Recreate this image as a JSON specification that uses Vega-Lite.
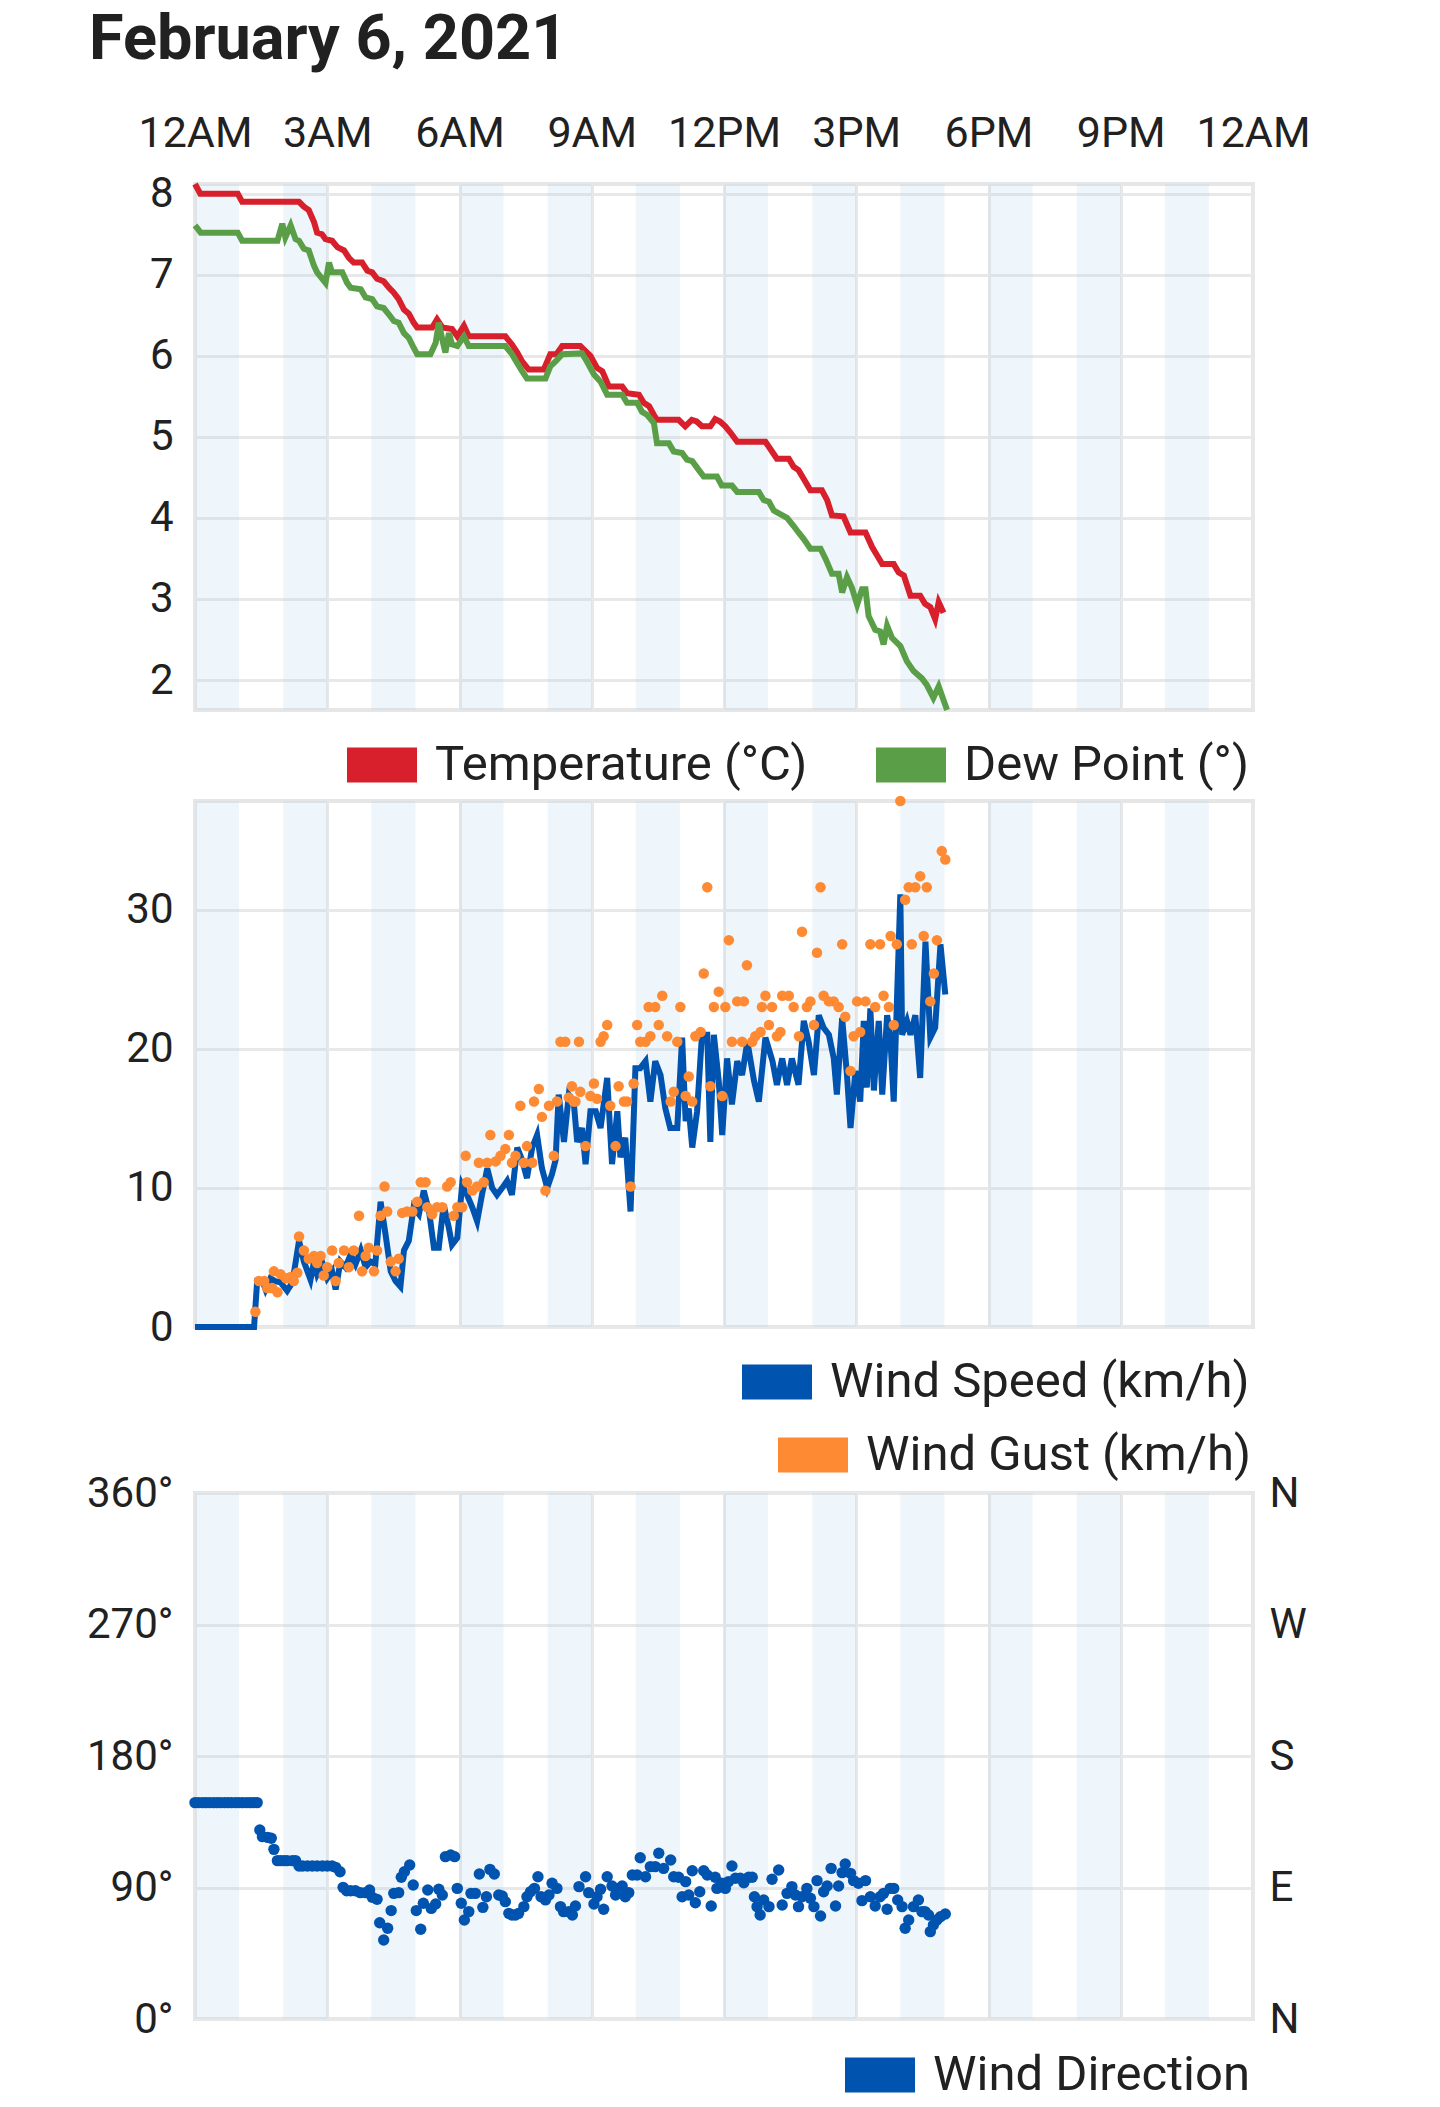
{
  "$schema": "https://vega.github.io/schema/vega-lite/v6.json",
  "autosize": {"type": "pad"},
  "padding": {"left": 84, "top": 9, "right": 20, "bottom": 20},
  "background": "white",
  "title": {"text": "February 6, 2021", "anchor": "start", "frame": "group", "dx": -106, "offset": 38, "font": "Roboto", "fontSize": 63, "fontWeight": "bold", "color": "#212121"},
  "config": {
    "font": "Roboto",
    "view": {"stroke": "#e6e6e6", "strokeWidth": 4},
    "axis": {"gridColor": "#e8e8e8", "gridWidth": 3, "domain": false, "ticks": false, "labelFont": "Roboto", "labelFontSize": 42, "labelColor": "#212121", "title": null},
    "legend": {"orient": "none", "title": null, "symbolType": "M-1,-0.5H1V0.5H-1Z", "symbolSize": 4900, "symbolStrokeWidth": 0, "labelFont": "Roboto", "labelFontSize": 49, "labelColor": "#212121", "labelOffset": 18, "padding": 0, "labelLimit": 2000}
  },
  "datasets": {
    "bands": [{"s":0,"e":1},{"s":2,"e":3},{"s":4,"e":5},{"s":6,"e":7},{"s":8,"e":9},{"s":10,"e":11},{"s":12,"e":13},{"s":14,"e":15},{"s":16,"e":17},{"s":18,"e":19},{"s":20,"e":21},{"s":22,"e":23}],
    "temp": [{"t":0,"v":8.12},{"t":0.12,"v":8.0},{"t":0.97,"v":8.0},{"t":1.07,"v":7.9},{"t":2.36,"v":7.9},{"t":2.47,"v":7.84},{"t":2.58,"v":7.8},{"t":2.7,"v":7.65},{"t":2.77,"v":7.52},{"t":2.88,"v":7.5},{"t":2.96,"v":7.44},{"t":3.11,"v":7.42},{"t":3.23,"v":7.34},{"t":3.38,"v":7.3},{"t":3.49,"v":7.21},{"t":3.6,"v":7.15},{"t":3.79,"v":7.15},{"t":3.91,"v":7.05},{"t":4.02,"v":7.03},{"t":4.13,"v":6.95},{"t":4.28,"v":6.92},{"t":4.4,"v":6.84},{"t":4.51,"v":6.78},{"t":4.62,"v":6.7},{"t":4.74,"v":6.57},{"t":4.85,"v":6.52},{"t":4.96,"v":6.41},{"t":5.04,"v":6.35},{"t":5.38,"v":6.35},{"t":5.49,"v":6.45},{"t":5.61,"v":6.35},{"t":5.83,"v":6.33},{"t":5.95,"v":6.24},{"t":6.1,"v":6.37},{"t":6.21,"v":6.24},{"t":7.04,"v":6.24},{"t":7.19,"v":6.14},{"t":7.31,"v":6.04},{"t":7.42,"v":5.93},{"t":7.57,"v":5.83},{"t":7.91,"v":5.83},{"t":8.06,"v":6.02},{"t":8.2,"v":6.02},{"t":8.33,"v":6.12},{"t":8.74,"v":6.12},{"t":8.97,"v":6.0},{"t":9.12,"v":5.85},{"t":9.24,"v":5.81},{"t":9.39,"v":5.62},{"t":9.69,"v":5.62},{"t":9.8,"v":5.54},{"t":10.07,"v":5.52},{"t":10.18,"v":5.42},{"t":10.3,"v":5.38},{"t":10.41,"v":5.27},{"t":10.48,"v":5.21},{"t":10.97,"v":5.21},{"t":11.12,"v":5.13},{"t":11.27,"v":5.21},{"t":11.38,"v":5.19},{"t":11.5,"v":5.13},{"t":11.69,"v":5.13},{"t":11.8,"v":5.22},{"t":11.91,"v":5.19},{"t":12.03,"v":5.13},{"t":12.15,"v":5.05},{"t":12.3,"v":4.94},{"t":12.94,"v":4.94},{"t":13.09,"v":4.82},{"t":13.2,"v":4.73},{"t":13.47,"v":4.73},{"t":13.58,"v":4.63},{"t":13.69,"v":4.59},{"t":13.81,"v":4.48},{"t":13.96,"v":4.34},{"t":14.22,"v":4.34},{"t":14.34,"v":4.22},{"t":14.45,"v":4.03},{"t":14.71,"v":4.02},{"t":14.87,"v":3.82},{"t":15.21,"v":3.82},{"t":15.36,"v":3.64},{"t":15.47,"v":3.54},{"t":15.59,"v":3.43},{"t":15.85,"v":3.43},{"t":15.96,"v":3.33},{"t":16.08,"v":3.29},{"t":16.23,"v":3.04},{"t":16.45,"v":3.04},{"t":16.56,"v":2.94},{"t":16.68,"v":2.9},{"t":16.79,"v":2.75},{"t":16.87,"v":2.96},{"t":16.98,"v":2.83}],
    "dew": [{"t":0,"v":7.61},{"t":0.13,"v":7.52},{"t":0.97,"v":7.52},{"t":1.07,"v":7.42},{"t":1.87,"v":7.42},{"t":1.98,"v":7.63},{"t":2.05,"v":7.46},{"t":2.17,"v":7.61},{"t":2.28,"v":7.44},{"t":2.36,"v":7.42},{"t":2.47,"v":7.32},{"t":2.58,"v":7.3},{"t":2.7,"v":7.11},{"t":2.77,"v":7.03},{"t":2.96,"v":6.9},{"t":3.04,"v":7.15},{"t":3.11,"v":7.03},{"t":3.34,"v":7.03},{"t":3.45,"v":6.9},{"t":3.53,"v":6.84},{"t":3.76,"v":6.82},{"t":3.87,"v":6.72},{"t":4.02,"v":6.7},{"t":4.13,"v":6.61},{"t":4.28,"v":6.59},{"t":4.4,"v":6.51},{"t":4.51,"v":6.43},{"t":4.62,"v":6.41},{"t":4.74,"v":6.28},{"t":4.85,"v":6.22},{"t":4.96,"v":6.1},{"t":5.04,"v":6.02},{"t":5.34,"v":6.02},{"t":5.46,"v":6.16},{"t":5.53,"v":6.41},{"t":5.61,"v":6.2},{"t":5.68,"v":6.04},{"t":5.76,"v":6.28},{"t":5.83,"v":6.14},{"t":5.95,"v":6.12},{"t":6.1,"v":6.24},{"t":6.21,"v":6.12},{"t":7.04,"v":6.12},{"t":7.19,"v":6.02},{"t":7.31,"v":5.91},{"t":7.42,"v":5.81},{"t":7.53,"v":5.72},{"t":7.95,"v":5.72},{"t":8.06,"v":5.87},{"t":8.18,"v":5.93},{"t":8.33,"v":6.02},{"t":8.78,"v":6.03},{"t":8.89,"v":5.93},{"t":9.05,"v":5.77},{"t":9.2,"v":5.68},{"t":9.35,"v":5.52},{"t":9.69,"v":5.52},{"t":9.8,"v":5.42},{"t":10.03,"v":5.42},{"t":10.14,"v":5.31},{"t":10.26,"v":5.27},{"t":10.41,"v":5.17},{"t":10.48,"v":4.92},{"t":10.75,"v":4.92},{"t":10.86,"v":4.82},{"t":11.05,"v":4.8},{"t":11.16,"v":4.72},{"t":11.28,"v":4.7},{"t":11.43,"v":4.59},{"t":11.54,"v":4.51},{"t":11.84,"v":4.51},{"t":11.95,"v":4.4},{"t":12.18,"v":4.4},{"t":12.3,"v":4.32},{"t":12.79,"v":4.32},{"t":12.9,"v":4.22},{"t":13.02,"v":4.2},{"t":13.13,"v":4.09},{"t":13.43,"v":4.0},{"t":13.58,"v":3.9},{"t":13.69,"v":3.82},{"t":13.81,"v":3.74},{"t":13.96,"v":3.62},{"t":14.19,"v":3.62},{"t":14.3,"v":3.5},{"t":14.45,"v":3.31},{"t":14.6,"v":3.31},{"t":14.68,"v":3.08},{"t":14.79,"v":3.27},{"t":14.9,"v":3.14},{"t":15.02,"v":2.93},{"t":15.13,"v":3.12},{"t":15.21,"v":3.12},{"t":15.28,"v":2.79},{"t":15.43,"v":2.62},{"t":15.54,"v":2.6},{"t":15.62,"v":2.44},{"t":15.7,"v":2.67},{"t":15.81,"v":2.52},{"t":16.0,"v":2.42},{"t":16.15,"v":2.23},{"t":16.3,"v":2.11},{"t":16.49,"v":2.02},{"t":16.6,"v":1.94},{"t":16.75,"v":1.78},{"t":16.87,"v":1.92},{"t":17.06,"v":1.63}],
    "speed": [{"t":0,"v":0},{"t":1.34,"v":0},{"t":1.41,"v":3.3},{"t":1.53,"v":3.3},{"t":1.6,"v":2.7},{"t":1.71,"v":3.5},{"t":1.82,"v":3.3},{"t":1.94,"v":3.2},{"t":2.09,"v":2.6},{"t":2.21,"v":3.2},{"t":2.36,"v":6.2},{"t":2.47,"v":4.7},{"t":2.62,"v":3.4},{"t":2.7,"v":4.7},{"t":2.77,"v":3.8},{"t":2.89,"v":4.6},{"t":3.0,"v":3.5},{"t":3.11,"v":4.0},{"t":3.19,"v":2.7},{"t":3.3,"v":4.7},{"t":3.41,"v":4.3},{"t":3.53,"v":5.2},{"t":3.64,"v":4.5},{"t":3.76,"v":5.5},{"t":3.87,"v":4.3},{"t":3.98,"v":4.7},{"t":4.09,"v":4.5},{"t":4.21,"v":9.0},{"t":4.32,"v":6.7},{"t":4.44,"v":4.0},{"t":4.55,"v":3.3},{"t":4.66,"v":2.9},{"t":4.74,"v":5.5},{"t":4.85,"v":6.2},{"t":4.96,"v":8.6},{"t":5.08,"v":8.1},{"t":5.19,"v":9.8},{"t":5.31,"v":8.3},{"t":5.42,"v":5.7},{"t":5.53,"v":5.7},{"t":5.64,"v":8.8},{"t":5.76,"v":7.1},{"t":5.83,"v":5.9},{"t":5.95,"v":6.4},{"t":6.06,"v":10.2},{"t":6.17,"v":9.5},{"t":6.29,"v":8.6},{"t":6.4,"v":7.6},{"t":6.51,"v":9.5},{"t":6.63,"v":11.4},{"t":6.74,"v":10.0},{"t":6.85,"v":9.5},{"t":6.97,"v":10.0},{"t":7.08,"v":10.5},{"t":7.19,"v":9.5},{"t":7.31,"v":12.9},{"t":7.42,"v":12.0},{"t":7.53,"v":10.7},{"t":7.65,"v":12.9},{"t":7.76,"v":13.8},{"t":7.87,"v":11.4},{"t":7.99,"v":10.0},{"t":8.1,"v":11.0},{"t":8.18,"v":12.0},{"t":8.25,"v":16.7},{"t":8.37,"v":13.3},{"t":8.48,"v":16.7},{"t":8.59,"v":16.2},{"t":8.67,"v":13.3},{"t":8.78,"v":14.3},{"t":8.86,"v":11.7},{"t":8.97,"v":15.5},{"t":9.09,"v":15.5},{"t":9.2,"v":14.3},{"t":9.35,"v":17.9},{"t":9.46,"v":11.7},{"t":9.58,"v":15.5},{"t":9.65,"v":12.2},{"t":9.76,"v":13.6},{"t":9.88,"v":8.3},{"t":9.99,"v":18.6},{"t":10.1,"v":18.6},{"t":10.22,"v":19.1},{"t":10.33,"v":16.2},{"t":10.44,"v":19.1},{"t":10.56,"v":18.1},{"t":10.67,"v":15.7},{"t":10.78,"v":14.3},{"t":10.94,"v":14.3},{"t":11.05,"v":20.8},{"t":11.13,"v":14.8},{"t":11.2,"v":15.7},{"t":11.28,"v":12.9},{"t":11.39,"v":15.5},{"t":11.5,"v":21.0},{"t":11.62,"v":21.0},{"t":11.69,"v":13.3},{"t":11.77,"v":21.0},{"t":11.88,"v":17.7},{"t":11.96,"v":13.8},{"t":12.07,"v":19.3},{"t":12.18,"v":16.0},{"t":12.3,"v":19.1},{"t":12.41,"v":18.1},{"t":12.53,"v":20.5},{"t":12.68,"v":17.7},{"t":12.79,"v":16.2},{"t":12.94,"v":20.8},{"t":13.1,"v":19.1},{"t":13.2,"v":17.4},{"t":13.32,"v":19.3},{"t":13.43,"v":17.4},{"t":13.54,"v":19.3},{"t":13.69,"v":17.4},{"t":13.81,"v":22.0},{"t":13.92,"v":20.5},{"t":14.04,"v":18.1},{"t":14.15,"v":22.4},{"t":14.26,"v":21.5},{"t":14.38,"v":21.0},{"t":14.49,"v":19.3},{"t":14.56,"v":16.7},{"t":14.68,"v":22.2},{"t":14.79,"v":18.1},{"t":14.87,"v":14.3},{"t":14.98,"v":18.4},{"t":15.09,"v":16.2},{"t":15.17,"v":22.0},{"t":15.24,"v":17.2},{"t":15.32,"v":22.9},{"t":15.4,"v":17.0},{"t":15.51,"v":22.0},{"t":15.59,"v":16.7},{"t":15.7,"v":22.4},{"t":15.77,"v":21.0},{"t":15.85,"v":16.2},{"t":16.0,"v":31.1},{"t":16.04,"v":21.0},{"t":16.15,"v":22.0},{"t":16.23,"v":21.0},{"t":16.34,"v":22.4},{"t":16.45,"v":17.9},{"t":16.57,"v":27.7},{"t":16.68,"v":20.8},{"t":16.79,"v":21.5},{"t":16.91,"v":27.5},{"t":17.02,"v":23.9}],
    "gust": [{"t":1.37,"v":1.1},{"t":1.45,"v":3.3},{"t":1.57,"v":3.3},{"t":1.64,"v":2.8},{"t":1.75,"v":2.8},{"t":1.87,"v":2.5},{"t":1.79,"v":4.0},{"t":1.94,"v":3.8},{"t":2.06,"v":3.5},{"t":2.17,"v":3.6},{"t":2.24,"v":3.3},{"t":2.32,"v":3.9},{"t":2.36,"v":6.5},{"t":2.47,"v":5.5},{"t":2.58,"v":4.9},{"t":2.7,"v":5.1},{"t":2.77,"v":4.6},{"t":2.85,"v":5.1},{"t":2.92,"v":3.7},{"t":3.0,"v":4.3},{"t":3.11,"v":5.5},{"t":3.19,"v":3.3},{"t":3.26,"v":4.6},{"t":3.38,"v":5.5},{"t":3.49,"v":4.3},{"t":3.6,"v":5.5},{"t":3.72,"v":8.0},{"t":3.79,"v":4.0},{"t":3.87,"v":5.1},{"t":3.94,"v":5.7},{"t":4.06,"v":4.0},{"t":4.13,"v":5.5},{"t":4.21,"v":8.0},{"t":4.3,"v":10.1},{"t":4.36,"v":8.3},{"t":4.44,"v":4.7},{"t":4.55,"v":4.0},{"t":4.62,"v":4.9},{"t":4.7,"v":8.2},{"t":4.81,"v":8.3},{"t":4.93,"v":8.3},{"t":5.04,"v":9.0},{"t":5.12,"v":10.4},{"t":5.23,"v":10.4},{"t":5.27,"v":8.6},{"t":5.38,"v":8.1},{"t":5.49,"v":8.6},{"t":5.61,"v":8.6},{"t":5.72,"v":10.1},{"t":5.8,"v":10.4},{"t":5.87,"v":8.0},{"t":5.95,"v":8.6},{"t":6.06,"v":8.6},{"t":6.14,"v":12.3},{"t":6.17,"v":10.4},{"t":6.29,"v":9.8},{"t":6.4,"v":10.1},{"t":6.44,"v":11.8},{"t":6.55,"v":10.4},{"t":6.63,"v":11.8},{"t":6.7,"v":13.8},{"t":6.82,"v":11.9},{"t":6.93,"v":12.3},{"t":7.04,"v":12.8},{"t":7.12,"v":13.8},{"t":7.19,"v":11.8},{"t":7.27,"v":12.3},{"t":7.38,"v":15.9},{"t":7.46,"v":11.8},{"t":7.53,"v":13.0},{"t":7.65,"v":11.8},{"t":7.69,"v":16.2},{"t":7.8,"v":17.1},{"t":7.87,"v":15.1},{"t":7.95,"v":9.8},{"t":8.03,"v":15.9},{"t":8.14,"v":12.3},{"t":8.21,"v":16.2},{"t":8.29,"v":20.5},{"t":8.4,"v":20.5},{"t":8.48,"v":16.5},{"t":8.55,"v":17.3},{"t":8.59,"v":16.2},{"t":8.63,"v":16.2},{"t":8.71,"v":20.5},{"t":8.74,"v":16.9},{"t":8.86,"v":13.0},{"t":8.97,"v":16.6},{"t":9.05,"v":17.5},{"t":9.12,"v":16.4},{"t":9.2,"v":20.5},{"t":9.27,"v":20.9},{"t":9.35,"v":21.7},{"t":9.42,"v":15.9},{"t":9.54,"v":13.0},{"t":9.61,"v":17.3},{"t":9.73,"v":16.2},{"t":9.8,"v":16.2},{"t":9.88,"v":10.1},{"t":9.95,"v":17.5},{"t":10.03,"v":21.7},{"t":10.1,"v":20.5},{"t":10.22,"v":20.5},{"t":10.29,"v":23.0},{"t":10.33,"v":20.9},{"t":10.44,"v":23.0},{"t":10.52,"v":21.7},{"t":10.6,"v":23.8},{"t":10.71,"v":20.9},{"t":10.79,"v":16.2},{"t":10.86,"v":16.9},{"t":10.94,"v":20.5},{"t":11.01,"v":23.0},{"t":11.13,"v":16.6},{"t":11.2,"v":18.0},{"t":11.28,"v":16.2},{"t":11.35,"v":20.9},{"t":11.47,"v":21.2},{"t":11.54,"v":25.4},{"t":11.62,"v":31.6},{"t":11.69,"v":17.3},{"t":11.77,"v":23.0},{"t":11.88,"v":24.1},{"t":11.96,"v":16.6},{"t":12.03,"v":23.0},{"t":12.11,"v":27.8},{"t":12.18,"v":20.5},{"t":12.3,"v":23.4},{"t":12.41,"v":20.5},{"t":12.45,"v":23.4},{"t":12.52,"v":26.0},{"t":12.64,"v":20.5},{"t":12.71,"v":20.9},{"t":12.83,"v":21.2},{"t":12.86,"v":23.0},{"t":12.94,"v":23.8},{"t":13.02,"v":21.7},{"t":13.09,"v":23.0},{"t":13.2,"v":20.9},{"t":13.28,"v":21.2},{"t":13.32,"v":23.8},{"t":13.47,"v":23.8},{"t":13.58,"v":23.0},{"t":13.7,"v":20.9},{"t":13.77,"v":28.4},{"t":13.88,"v":23.0},{"t":13.96,"v":23.4},{"t":14.04,"v":21.7},{"t":14.11,"v":26.9},{"t":14.19,"v":31.6},{"t":14.26,"v":23.8},{"t":14.38,"v":23.4},{"t":14.49,"v":23.4},{"t":14.6,"v":23.0},{"t":14.68,"v":27.5},{"t":14.75,"v":22.3},{"t":14.87,"v":18.4},{"t":14.94,"v":20.9},{"t":15.02,"v":23.4},{"t":15.09,"v":21.2},{"t":15.21,"v":23.4},{"t":15.32,"v":27.5},{"t":15.43,"v":23.0},{"t":15.54,"v":27.5},{"t":15.62,"v":23.8},{"t":15.74,"v":23.0},{"t":15.78,"v":28.1},{"t":15.85,"v":21.7},{"t":15.92,"v":27.5},{"t":16.0,"v":37.8},{"t":16.11,"v":30.7},{"t":16.19,"v":31.6},{"t":16.26,"v":27.5},{"t":16.34,"v":31.6},{"t":16.45,"v":32.4},{"t":16.53,"v":28.1},{"t":16.6,"v":31.6},{"t":16.68,"v":23.4},{"t":16.76,"v":25.4},{"t":16.83,"v":27.8},{"t":16.94,"v":34.2},{"t":17.02,"v":33.6}],
    "dir": [{"t":0,"v":148.1},{"t":0.08,"v":148.1},{"t":0.17,"v":148.1},{"t":0.25,"v":148.1},{"t":0.33,"v":148.1},{"t":0.42,"v":148.1},{"t":0.5,"v":148.1},{"t":0.58,"v":148.1},{"t":0.67,"v":148.1},{"t":0.75,"v":148.1},{"t":0.83,"v":148.1},{"t":0.92,"v":148.1},{"t":1.0,"v":148.1},{"t":1.08,"v":148.1},{"t":1.17,"v":148.1},{"t":1.25,"v":148.1},{"t":1.33,"v":148.1},{"t":1.41,"v":148.1},{"t":1.47,"v":129.4},{"t":1.53,"v":124.8},{"t":1.65,"v":124.3},{"t":1.73,"v":123.7},{"t":1.79,"v":116.1},{"t":1.87,"v":108.4},{"t":1.94,"v":108.4},{"t":2.02,"v":108.4},{"t":2.09,"v":108.4},{"t":2.21,"v":108.4},{"t":2.28,"v":108.4},{"t":2.36,"v":104.7},{"t":2.44,"v":104.7},{"t":2.55,"v":104.7},{"t":2.66,"v":104.7},{"t":2.77,"v":104.7},{"t":2.89,"v":104.7},{"t":3.0,"v":104.7},{"t":3.11,"v":104.7},{"t":3.19,"v":103.8},{"t":3.29,"v":100.8},{"t":3.36,"v":90.1},{"t":3.44,"v":87.8},{"t":3.53,"v":87.8},{"t":3.64,"v":87.8},{"t":3.75,"v":86.5},{"t":3.87,"v":86.5},{"t":3.96,"v":88.3},{"t":4.02,"v":83.3},{"t":4.13,"v":81.9},{"t":4.19,"v":65.9},{"t":4.28,"v":54.1},{"t":4.37,"v":62.1},{"t":4.45,"v":74.2},{"t":4.51,"v":86.0},{"t":4.62,"v":86.5},{"t":4.68,"v":97.0},{"t":4.75,"v":100.8},{"t":4.87,"v":105.4},{"t":4.95,"v":91.7},{"t":5.02,"v":74.2},{"t":5.12,"v":61.4},{"t":5.18,"v":79.2},{"t":5.28,"v":88.3},{"t":5.36,"v":75.7},{"t":5.46,"v":78.7},{"t":5.53,"v":88.8},{"t":5.61,"v":84.9},{"t":5.68,"v":111.1},{"t":5.8,"v":112.3},{"t":5.89,"v":111.1},{"t":5.95,"v":89.4},{"t":6.04,"v":79.2},{"t":6.11,"v":67.8},{"t":6.21,"v":73.5},{"t":6.26,"v":86.0},{"t":6.36,"v":86.0},{"t":6.45,"v":99.2},{"t":6.53,"v":76.4},{"t":6.61,"v":83.7},{"t":6.69,"v":102.4},{"t":6.79,"v":99.2},{"t":6.89,"v":84.9},{"t":6.97,"v":84.2},{"t":7.04,"v":80.3},{"t":7.12,"v":72.3},{"t":7.19,"v":71.2},{"t":7.27,"v":71.2},{"t":7.34,"v":72.3},{"t":7.46,"v":76.9},{"t":7.53,"v":83.7},{"t":7.61,"v":87.1},{"t":7.7,"v":89.4},{"t":7.78,"v":97.4},{"t":7.85,"v":83.7},{"t":7.95,"v":81.5},{"t":8.03,"v":84.9},{"t":8.1,"v":92.9},{"t":8.21,"v":89.4},{"t":8.29,"v":76.9},{"t":8.36,"v":73.5},{"t":8.48,"v":73.5},{"t":8.56,"v":71.2},{"t":8.63,"v":77.3},{"t":8.71,"v":90.6},{"t":8.86,"v":97.4},{"t":8.93,"v":86.5},{"t":9.05,"v":78.7},{"t":9.12,"v":83.7},{"t":9.2,"v":88.8},{"t":9.27,"v":75.1},{"t":9.35,"v":97.4},{"t":9.46,"v":91.0},{"t":9.54,"v":84.9},{"t":9.61,"v":89.4},{"t":9.69,"v":91.0},{"t":9.76,"v":83.7},{"t":9.84,"v":86.5},{"t":9.92,"v":98.6},{"t":10.03,"v":98.6},{"t":10.1,"v":110.4},{"t":10.22,"v":97.4},{"t":10.33,"v":104.3},{"t":10.44,"v":104.3},{"t":10.52,"v":113.4},{"t":10.63,"v":103.1},{"t":10.79,"v":108.8},{"t":10.86,"v":97.4},{"t":10.97,"v":97.0},{"t":11.05,"v":83.7},{"t":11.13,"v":94.0},{"t":11.2,"v":84.9},{"t":11.28,"v":101.5},{"t":11.35,"v":79.6},{"t":11.45,"v":87.1},{"t":11.54,"v":101.5},{"t":11.62,"v":98.6},{"t":11.71,"v":77.3},{"t":11.8,"v":97.0},{"t":11.84,"v":89.4},{"t":11.95,"v":92.9},{"t":12.03,"v":89.4},{"t":12.1,"v":94.0},{"t":12.18,"v":104.7},{"t":12.26,"v":96.3},{"t":12.37,"v":96.3},{"t":12.45,"v":93.3},{"t":12.56,"v":97.0},{"t":12.64,"v":97.0},{"t":12.69,"v":83.7},{"t":12.75,"v":76.9},{"t":12.82,"v":71.2},{"t":12.9,"v":81.5},{"t":13.02,"v":76.9},{"t":13.09,"v":95.6},{"t":13.24,"v":102.0},{"t":13.32,"v":78.0},{"t":13.43,"v":86.0},{"t":13.54,"v":90.6},{"t":13.62,"v":84.9},{"t":13.69,"v":76.9},{"t":13.77,"v":83.7},{"t":13.88,"v":89.4},{"t":13.96,"v":82.6},{"t":14.04,"v":76.9},{"t":14.11,"v":94.7},{"t":14.19,"v":70.5},{"t":14.26,"v":87.1},{"t":14.34,"v":91.0},{"t":14.43,"v":103.1},{"t":14.53,"v":77.3},{"t":14.6,"v":91.0},{"t":14.68,"v":100.2},{"t":14.75,"v":106.1},{"t":14.87,"v":99.7},{"t":14.94,"v":94.7},{"t":15.05,"v":92.9},{"t":15.13,"v":81.0},{"t":15.21,"v":94.7},{"t":15.32,"v":83.7},{"t":15.43,"v":77.3},{"t":15.54,"v":83.7},{"t":15.62,"v":86.0},{"t":15.7,"v":75.1},{"t":15.77,"v":89.4},{"t":15.85,"v":89.4},{"t":15.94,"v":81.5},{"t":16.04,"v":76.9},{"t":16.11,"v":62.1},{"t":16.19,"v":67.8},{"t":16.3,"v":76.9},{"t":16.41,"v":81.5},{"t":16.49,"v":73.5},{"t":16.56,"v":73.5},{"t":16.64,"v":71.2},{"t":16.68,"v":59.8},{"t":16.75,"v":64.3},{"t":16.83,"v":67.8},{"t":16.91,"v":70.0},{"t":17.02,"v":71.9}]
  },
  "spacing": 0,
  "bounds": "flush",
  "resolve": {"scale": {"color": "independent", "fill": "independent", "stroke": "independent"}, "legend": {"color": "independent", "fill": "independent", "stroke": "independent"}},
  "vconcat": [
    {
      "width": 1058,
      "height": 526,
      "layer": [
        {
          "data": {"name": "bands"},
          "mark": {"type": "rect", "fill": "#b8d4ee", "opacity": 0.22},
          "encoding": {
            "x": {"field": "s", "type": "quantitative", "scale": {"domain": [0, 24], "nice": false}, "axis": {"orient": "top", "values": [0, 3, 6, 9, 12, 15, 18, 21, 24], "grid": true, "labelFlush": false, "labelOverlap": false, "labelPadding": 29, "labelFontSize": 43, "labelExpr": "datum.value % 24 == 0 ? '12AM' : datum.value == 12 ? '12PM' : datum.value < 12 ? datum.value + 'AM' : (datum.value - 12) + 'PM'"}},
            "x2": {"field": "e"}
          }
        },
        {
          "data": {"name": "temp"},
          "mark": {"type": "line", "strokeWidth": 6},
          "encoding": {
            "x": {"field": "t", "type": "quantitative"},
            "y": {"field": "v", "type": "quantitative", "scale": {"domain": [1.63, 8.12], "nice": false, "zero": false}, "axis": {"values": [2, 3, 4, 5, 6, 7, 8], "format": "d", "grid": true, "labelPadding": 22}},
            "color": {"datum": "Temperature (°C)", "scale": {"range": ["#d7202b"]}, "legend": {"legendX": 152, "legendY": 546, "symbolFillColor": "#d7202b"}}
          }
        },
        {
          "data": {"name": "dew"},
          "mark": {"type": "line", "strokeWidth": 6},
          "encoding": {
            "x": {"field": "t", "type": "quantitative"},
            "y": {"field": "v", "type": "quantitative"},
            "stroke": {"datum": "Dew Point (°)", "scale": {"range": ["#5a9f48"]}, "legend": {"legendX": 681, "legendY": 546, "symbolFillColor": "#5a9f48"}}
          }
        }
      ]
    },
    {
      "width": 1058,
      "height": 91,
      "view": {"stroke": null},
      "data": {"values": []},
      "mark": {"type": "point", "opacity": 0}
    },
    {
      "width": 1058,
      "height": 526,
      "layer": [
        {
          "data": {"name": "bands"},
          "mark": {"type": "rect", "fill": "#b8d4ee", "opacity": 0.22},
          "encoding": {
            "x": {"field": "s", "type": "quantitative", "scale": {"domain": [0, 24], "nice": false}, "axis": {"orient": "top", "values": [0, 3, 6, 9, 12, 15, 18, 21, 24], "grid": true, "labels": false}},
            "x2": {"field": "e"}
          }
        },
        {
          "data": {"name": "speed"},
          "mark": {"type": "line", "strokeWidth": 6},
          "encoding": {
            "x": {"field": "t", "type": "quantitative"},
            "y": {"field": "v", "type": "quantitative", "scale": {"domain": [0, 37.8], "nice": false}, "axis": {"values": [0, 10, 20, 30], "grid": true, "labelPadding": 22}},
            "color": {"datum": "Wind Speed (km/h)", "scale": {"range": ["#0053ae"]}, "legend": {"legendX": 547, "legendY": 546, "symbolFillColor": "#0053ae"}}
          }
        },
        {
          "data": {"name": "gust"},
          "mark": {"type": "circle", "size": 110, "opacity": 1},
          "encoding": {
            "x": {"field": "t", "type": "quantitative"},
            "y": {"field": "v", "type": "quantitative"},
            "fill": {"datum": "Wind Gust (km/h)", "scale": {"range": ["#fe8a33"]}, "legend": {"legendX": 583, "legendY": 619, "symbolFillColor": "#fe8a33"}}
          }
        }
      ]
    },
    {
      "width": 1058,
      "height": 166,
      "view": {"stroke": null},
      "data": {"values": []},
      "mark": {"type": "point", "opacity": 0}
    },
    {
      "width": 1058,
      "height": 526,
      "resolve": {"scale": {"y": "independent"}, "axis": {"y": "independent"}},
      "layer": [
        {
          "data": {"name": "bands"},
          "mark": {"type": "rect", "fill": "#b8d4ee", "opacity": 0.22},
          "encoding": {
            "x": {"field": "s", "type": "quantitative", "scale": {"domain": [0, 24], "nice": false}, "axis": {"orient": "top", "values": [0, 3, 6, 9, 12, 15, 18, 21, 24], "grid": true, "labels": false}},
            "x2": {"field": "e"}
          }
        },
        {
          "data": {"name": "dir"},
          "mark": {"type": "circle", "opacity": 0},
          "encoding": {
            "x": {"field": "t", "type": "quantitative"},
            "y": {"field": "v", "type": "quantitative", "scale": {"domain": [0, 360], "nice": false}, "axis": {"orient": "right", "values": [0, 90, 180, 270, 360], "grid": false, "labelPadding": 16, "labelExpr": "datum.value == 90 ? 'E' : datum.value == 180 ? 'S' : datum.value == 270 ? 'W' : 'N'"}}
          }
        },
        {
          "data": {"name": "dir"},
          "mark": {"type": "circle", "size": 130, "opacity": 1},
          "encoding": {
            "x": {"field": "t", "type": "quantitative"},
            "y": {"field": "v", "type": "quantitative", "scale": {"domain": [0, 360], "nice": false}, "axis": {"orient": "left", "values": [0, 90, 180, 270, 360], "grid": true, "labelPadding": 22, "labelExpr": "datum.value + '°'"}},
            "color": {"datum": "Wind Direction", "scale": {"range": ["#0053ae"]}, "legend": {"legendX": 650, "legendY": 547, "symbolFillColor": "#0053ae"}}
          }
        }
      ]
    }
  ]
}
